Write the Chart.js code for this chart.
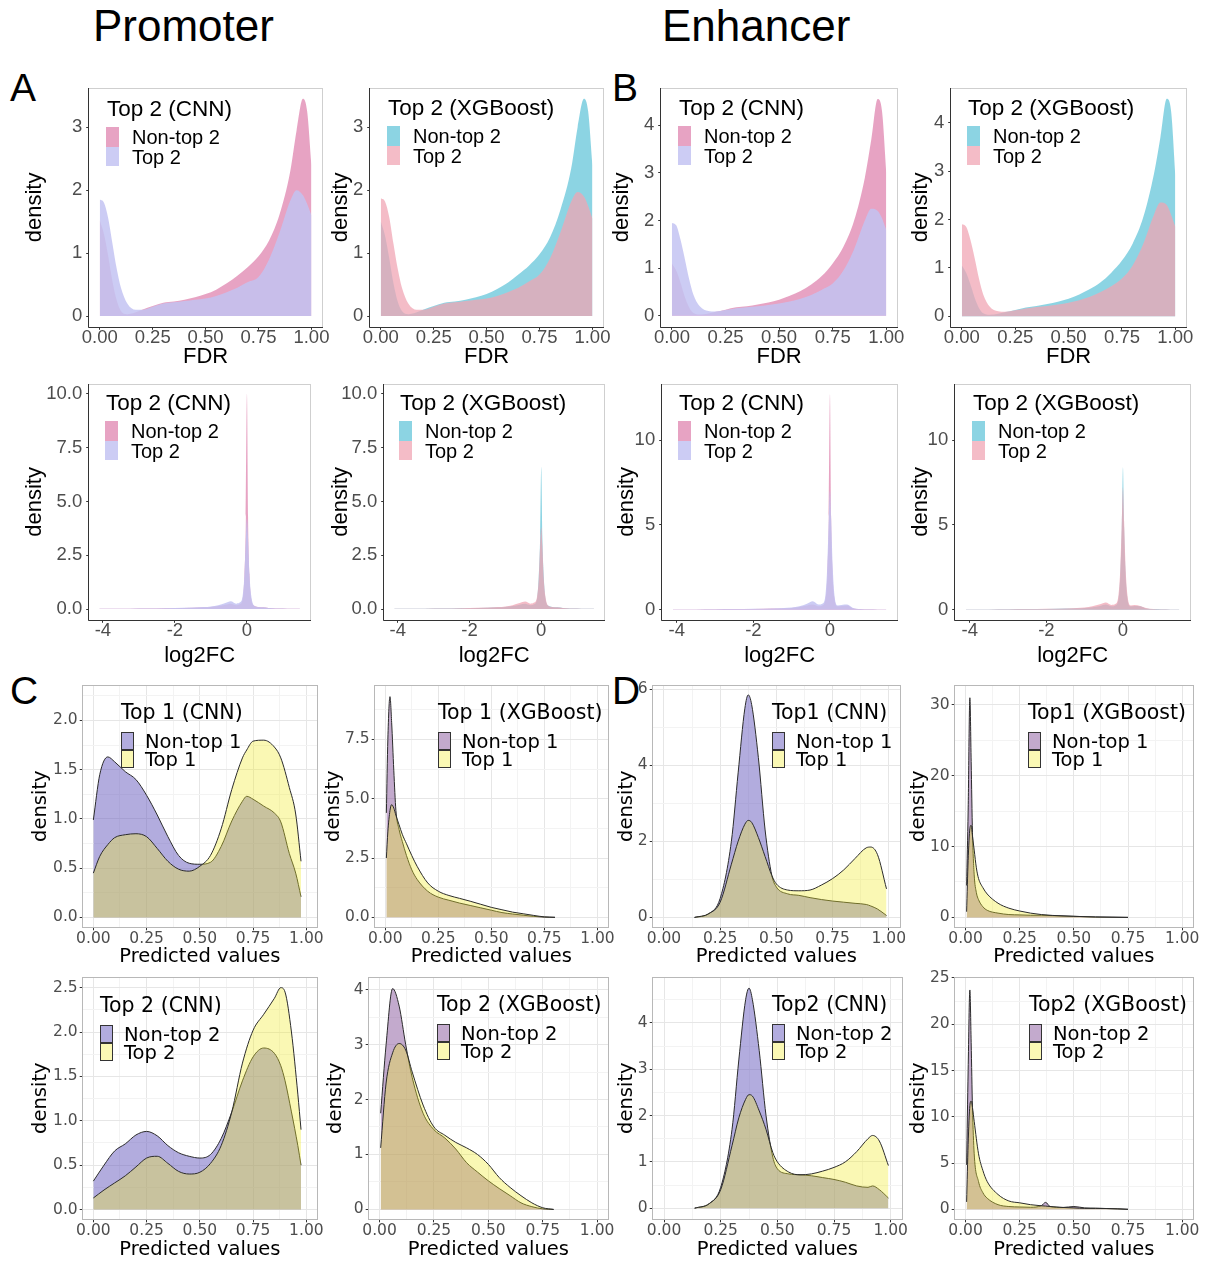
<!DOCTYPE html>
<html>
<head>
<meta charset="utf-8">
<script src="https://cdn.jsdelivr.net/npm/chart.js@4.4.0/dist/chart.umd.min.js"></script>
<style>
  body { margin: 0; background: #fff; width: 1209px; height: 1262px; position: relative; overflow: hidden; }
  .txt { position: absolute; white-space: nowrap; color: #000; line-height: 1.2; }
  .hdr { position: absolute; font-family: "Liberation Sans", Arial, sans-serif; font-size: 44px; line-height: 1; }
  .tag { position: absolute; font-family: "Liberation Sans", Arial, sans-serif; font-size: 39px; line-height: 1; }
  .key { position: absolute; box-sizing: border-box; }
</style>
</head>
<body>
<div class="hdr" style="left:93px;top:4px">Promoter</div>
<div class="hdr" style="left:662px;top:4px">Enhancer</div>
<div class="tag" style="left:10px;top:68px">A</div>
<div class="tag" style="left:612px;top:68px">B</div>
<div class="tag" style="left:10px;top:671px">C</div>
<div class="tag" style="left:612px;top:671px">D</div>
<script>
// tick labels
const fdrTicks = [0, 0.25, 0.5, 0.75, 1];
const fcTicks = [-4, -2, 0];
const predTicks = [0, 0.25, 0.5, 0.75, 1];
const a1YTicks = [0, 1, 2, 3];
const b1YTicks = [0, 1, 2, 3, 4];
const a3YTicks = [0, 2.5, 5, 7.5, 10];
const b3YTicks = [0, 5, 10];
const c1YTicks = [0, 0.5, 1, 1.5, 2];
const c2YTicks = [0, 2.5, 5, 7.5];
const d1YTicks = [0, 2, 4, 6];
const d2YTicks = [0, 10, 20, 30];
const c3YTicks = [0, 0.5, 1, 1.5, 2, 2.5];
const c4YTicks = [0, 1, 2, 3, 4];
const d3YTicks = [0, 1, 2, 3, 4];
const d4YTicks = [0, 5, 10, 15, 20, 25];

// FDR densities
const fdrX = [0, 0.02, 0.04, 0.06, 0.08, 0.1, 0.13, 0.17, 0.2, 0.25, 0.3, 0.35, 0.4, 0.45, 0.5, 0.55, 0.6, 0.65, 0.7, 0.75, 0.8, 0.85, 0.9, 0.93, 0.96, 0.98, 1];
const a1NonTop = [1.52, 1.3, 0.95, 0.55, 0.25, 0.08, 0.03, 0.06, 0.1, 0.16, 0.21, 0.23, 0.26, 0.3, 0.35, 0.42, 0.52, 0.64, 0.78, 0.95, 1.2, 1.62, 2.3, 2.95, 3.45, 3.25, 2.4];
const a1Top = [1.85, 1.8, 1.55, 1.15, 0.75, 0.45, 0.2, 0.1, 0.1, 0.15, 0.2, 0.22, 0.24, 0.26, 0.28, 0.32, 0.38, 0.45, 0.54, 0.62, 0.9, 1.33, 1.83, 2.0, 1.92, 1.78, 1.6];
const a2NonTop = [1.5, 1.28, 0.92, 0.52, 0.23, 0.08, 0.03, 0.06, 0.1, 0.16, 0.21, 0.23, 0.26, 0.3, 0.35, 0.43, 0.53, 0.66, 0.8, 0.98, 1.25, 1.7, 2.35, 3.0, 3.45, 3.25, 2.4];
const a2Top = [1.87, 1.82, 1.57, 1.15, 0.75, 0.45, 0.2, 0.1, 0.1, 0.15, 0.2, 0.22, 0.24, 0.26, 0.28, 0.32, 0.38, 0.45, 0.55, 0.66, 0.92, 1.34, 1.82, 1.97, 1.9, 1.75, 1.55];
const b1NonTop = [1.1, 0.95, 0.7, 0.4, 0.18, 0.06, 0.03, 0.05, 0.08, 0.13, 0.18, 0.2, 0.24, 0.28, 0.34, 0.42, 0.52, 0.66, 0.84, 1.1, 1.45, 2.0, 2.9, 3.7, 4.55, 4.3, 3.0];
const b1Top = [1.95, 1.9, 1.6, 1.2, 0.78, 0.45, 0.2, 0.1, 0.09, 0.12, 0.16, 0.18, 0.2, 0.23, 0.26, 0.3, 0.36, 0.44, 0.55, 0.68, 0.95, 1.4, 2.0, 2.25, 2.2, 2.05, 1.8];
const b2NonTop = [1.05, 0.9, 0.66, 0.38, 0.17, 0.06, 0.03, 0.05, 0.08, 0.13, 0.18, 0.21, 0.25, 0.3, 0.36, 0.45, 0.56, 0.7, 0.9, 1.15, 1.5, 2.05, 2.95, 3.7, 4.5, 4.25, 2.9];
const b2Top = [1.9, 1.85, 1.58, 1.2, 0.78, 0.45, 0.2, 0.1, 0.09, 0.12, 0.16, 0.19, 0.21, 0.24, 0.28, 0.33, 0.4, 0.5, 0.62, 0.78, 1.05, 1.5, 2.1, 2.35, 2.3, 2.1, 1.85];

// log2FC densities
const fcX = [-4.1, -3.5, -3, -2.5, -2, -1.5, -1.2, -1, -0.8, -0.6, -0.45, -0.3, -0.2, -0.12, -0.07, -0.03, 0, 0.03, 0.07, 0.12, 0.2, 0.3, 0.45, 0.6, 0.8, 1, 1.25, 1.47];
const a3NonTop = [0.01, 0.01, 0.02, 0.03, 0.04, 0.06, 0.08, 0.1, 0.14, 0.2, 0.25, 0.18, 0.22, 0.45, 1.6, 4.3, 10.0, 4.3, 1.6, 0.45, 0.15, 0.1, 0.08, 0.05, 0.03, 0.02, 0.01, 0.01];
const a3Top = [0.01, 0.01, 0.02, 0.03, 0.05, 0.07, 0.09, 0.12, 0.18, 0.28, 0.36, 0.25, 0.3, 0.6, 1.6, 3.3, 4.2, 3.3, 1.6, 0.6, 0.15, 0.1, 0.08, 0.05, 0.03, 0.02, 0.01, 0.01];
const a4NonTop = [0.01, 0.01, 0.02, 0.03, 0.04, 0.06, 0.08, 0.1, 0.14, 0.2, 0.24, 0.18, 0.22, 0.45, 1.5, 3.4, 6.6, 3.4, 1.5, 0.45, 0.15, 0.1, 0.08, 0.05, 0.03, 0.02, 0.01, 0.01];
const a4Top = [0.01, 0.01, 0.02, 0.03, 0.05, 0.07, 0.09, 0.12, 0.18, 0.28, 0.35, 0.25, 0.3, 0.55, 1.4, 3.0, 3.8, 3.0, 1.4, 0.55, 0.15, 0.1, 0.08, 0.05, 0.03, 0.02, 0.01, 0.01];
const b3NonTop = [0.01, 0.01, 0.02, 0.03, 0.04, 0.06, 0.08, 0.1, 0.15, 0.25, 0.3, 0.2, 0.25, 0.6, 2.0, 5.5, 12.7, 5.5, 2.0, 0.6, 0.2, 0.22, 0.25, 0.08, 0.03, 0.02, 0.01, 0.01];
const b3Top = [0.01, 0.01, 0.02, 0.03, 0.05, 0.07, 0.1, 0.13, 0.2, 0.35, 0.49, 0.3, 0.35, 0.8, 2.6, 5.4, 7.0, 5.4, 2.6, 0.8, 0.25, 0.28, 0.3, 0.1, 0.04, 0.02, 0.01, 0.01];
const b4NonTop = [0.01, 0.01, 0.02, 0.03, 0.04, 0.06, 0.08, 0.1, 0.14, 0.22, 0.3, 0.2, 0.25, 0.6, 2.0, 4.8, 8.4, 4.8, 2.0, 0.6, 0.2, 0.22, 0.2, 0.07, 0.03, 0.02, 0.01, 0.01];
const b4Top = [0.01, 0.01, 0.02, 0.03, 0.05, 0.07, 0.1, 0.13, 0.2, 0.32, 0.42, 0.28, 0.33, 0.8, 2.4, 5.2, 7.2, 5.2, 2.4, 0.8, 0.25, 0.28, 0.22, 0.1, 0.04, 0.02, 0.01, 0.01];

// predicted value densities
const c1X = [0, 0.03, 0.068, 0.1, 0.15, 0.2, 0.25, 0.3, 0.35, 0.4, 0.45, 0.5, 0.55, 0.6, 0.65, 0.7, 0.72, 0.75, 0.8, 0.85, 0.88, 0.92, 0.95, 0.975];
const c1NonTop = [0.99, 1.45, 1.63, 1.58, 1.48, 1.4, 1.24, 1.04, 0.82, 0.63, 0.55, 0.54, 0.56, 0.72, 0.98, 1.18, 1.23, 1.2, 1.13, 1.06, 0.97, 0.65, 0.45, 0.21];
const c1Top = [0.45, 0.62, 0.74, 0.81, 0.84, 0.85, 0.82, 0.7, 0.57, 0.49, 0.47, 0.52, 0.63, 0.9, 1.3, 1.62, 1.7, 1.79, 1.8, 1.73, 1.62, 1.32, 1.05, 0.57];
const c2X = [0.005, 0.012, 0.022, 0.03, 0.04, 0.05, 0.065, 0.08, 0.1, 0.125, 0.15, 0.2, 0.25, 0.3, 0.35, 0.4, 0.45, 0.5, 0.55, 0.6, 0.65, 0.7, 0.75, 0.8];
const c2NonTop = [4.4, 7.5, 9.3, 8.2, 6.2, 4.5, 3.7, 3.2, 2.6, 2.0, 1.6, 1.1, 0.85, 0.72, 0.6, 0.5, 0.4, 0.3, 0.2, 0.14, 0.09, 0.04, 0.01, 0.0];
const c2Top = [2.5, 3.6, 4.5, 4.75, 4.6, 4.3, 3.9, 3.5, 3.1, 2.6, 2.15, 1.45, 1.1, 0.92, 0.8, 0.68, 0.55, 0.42, 0.32, 0.22, 0.15, 0.08, 0.02, 0.0];
const d1X = [0.136, 0.2, 0.25, 0.3, 0.33, 0.36, 0.375, 0.39, 0.42, 0.45, 0.48, 0.5, 0.55, 0.6, 0.65, 0.7, 0.75, 0.8, 0.85, 0.9, 0.92, 0.95, 0.99];
const d1NonTop = [0, 0.1, 0.5, 2.0, 3.8, 5.5, 5.85, 5.6, 4.2, 2.3, 1.1, 0.8, 0.62, 0.58, 0.52, 0.47, 0.43, 0.4, 0.37, 0.34, 0.3, 0.22, 0.05];
const d1Top = [0, 0.1, 0.4, 1.4, 2.0, 2.45, 2.55, 2.5, 2.1, 1.6, 1.1, 0.88, 0.72, 0.7, 0.72, 0.85, 1.02, 1.25, 1.55, 1.83, 1.85, 1.65, 0.75];
const d2X = [0.005, 0.012, 0.02, 0.026, 0.032, 0.04, 0.05, 0.06, 0.08, 0.1, 0.15, 0.2, 0.25, 0.3, 0.35, 0.4, 0.5, 0.6, 0.75];
const d2NonTop = [4.5, 15, 31, 22, 12, 6, 3.5, 2.5, 1.5, 1.0, 0.6, 0.4, 0.35, 0.3, 0.3, 0.25, 0.15, 0.05, 0.0];
const d2Top = [0.8, 8, 12.5, 13, 11.5, 9.5, 7.0, 5.5, 4.2, 3.3, 2.0, 1.3, 0.9, 0.6, 0.4, 0.28, 0.15, 0.06, 0.0];
const c3X = [0, 0.05, 0.1, 0.15, 0.2, 0.25, 0.3, 0.35, 0.4, 0.45, 0.5, 0.55, 0.6, 0.65, 0.7, 0.75, 0.8, 0.85, 0.88, 0.9, 0.93, 0.96, 0.975];
const c3NonTop = [0.32, 0.5, 0.66, 0.74, 0.84, 0.88, 0.83, 0.72, 0.64, 0.6, 0.58, 0.62, 0.8, 1.1, 1.45, 1.72, 1.82, 1.76, 1.62, 1.45, 1.1, 0.72, 0.5];
const c3Top = [0.13, 0.22, 0.3, 0.38, 0.48, 0.58, 0.6, 0.52, 0.43, 0.4, 0.42, 0.52, 0.72, 1.1, 1.65, 2.02, 2.2, 2.38, 2.5, 2.45, 2.0, 1.3, 0.9];
const c4X = [0.005, 0.03, 0.06, 0.09, 0.12, 0.15, 0.2, 0.25, 0.3, 0.35, 0.4, 0.45, 0.5, 0.55, 0.6, 0.65, 0.7, 0.75, 0.8];
const c4NonTop = [1.75, 3.0, 4.02, 3.7, 3.0, 2.4, 1.75, 1.45, 1.3, 1.1, 0.85, 0.68, 0.52, 0.38, 0.25, 0.12, 0.05, 0.01, 0.0];
const c4Top = [1.12, 2.3, 2.85, 3.02, 2.9, 2.5, 1.9, 1.5, 1.35, 1.22, 1.12, 1.0, 0.82, 0.58, 0.4, 0.25, 0.12, 0.03, 0.0];
const d3X = [0.135, 0.2, 0.25, 0.3, 0.33, 0.36, 0.375, 0.39, 0.42, 0.45, 0.48, 0.5, 0.55, 0.6, 0.65, 0.7, 0.75, 0.8, 0.85, 0.9, 0.92, 0.95, 0.99];
const d3NonTop = [0, 0.1, 0.45, 1.7, 3.2, 4.5, 4.75, 4.5, 3.4, 2.0, 1.1, 0.85, 0.74, 0.72, 0.7, 0.66, 0.62, 0.56, 0.48, 0.45, 0.48, 0.4, 0.22];
const d3Top = [0, 0.1, 0.4, 1.35, 1.95, 2.35, 2.45, 2.42, 2.1, 1.7, 1.2, 1.0, 0.78, 0.72, 0.74, 0.8, 0.88, 1.0, 1.22, 1.5, 1.57, 1.45, 0.92];
const d4X = [0.005, 0.012, 0.02, 0.026, 0.032, 0.04, 0.06, 0.08, 0.1, 0.15, 0.2, 0.25, 0.3, 0.35, 0.37, 0.39, 0.45, 0.5, 0.55, 0.6, 0.7, 0.75];
const d4NonTop = [4.8, 15, 23.7, 18, 11, 6, 3.0, 1.8, 1.2, 0.5, 0.3, 0.25, 0.22, 0.4, 0.75, 0.3, 0.2, 0.3, 0.15, 0.12, 0.05, 0.0];
const d4Top = [0.8, 7, 11.2, 11.7, 11, 9.5, 6.0, 4.2, 3.0, 1.6, 0.9, 0.7, 0.5, 0.38, 0.35, 0.3, 0.2, 0.15, 0.1, 0.1, 0.05, 0.0];

const palettes = {
  cnnSoft: { nonTop: "rgba(225,140,180,0.8)", top: "rgba(195,195,242,0.85)", keyNon: "rgb(231,163,195)", keyTop: "rgb(204,204,244)" },
  xgbSoft: { nonTop: "rgba(120,205,222,0.85)", top: "rgba(240,165,180,0.75)", keyNon: "rgb(140,212,227)", keyTop: "rgb(244,188,199)" },
  cnnLine: { nonTop: "rgba(101,89,189,0.5)", top: "rgba(240,234,40,0.35)", keyNon: "rgb(178,172,222)", keyTop: "rgb(250,248,180)" },
  xgbLine: { nonTop: "rgba(135,85,155,0.5)", top: "rgba(240,234,40,0.35)", keyNon: "rgb(195,170,205)", keyTop: "rgb(250,248,180)" },
};

const fdrAxis = { ticks: fdrTicks, range: [-0.05, 1.05], title: "FDR", fmt: v => v.toFixed(2) };
const fcAxis = { ticks: fcTicks, range: [-4.38, 1.75], title: "log2FC", fmt: v => String(v) };
const predAxis = { ticks: predTicks, range: [-0.05, 1.05], title: "Predicted values", fmt: v => v.toFixed(2) };

const panels = [
  { x: fdrX, non: a1NonTop, top: a1Top, pal: "cnnSoft", xa: fdrAxis, yt: a1YTicks, yr: [-0.17, 3.62], yd: 0, title: "Top 2 (CNN)", labs: ["Non-top 2", "Top 2"], box: [89, 87, 322, 327], yTitleX: 35, xTitleY: 357, leg: [107, 108] },
  { x: fdrX, non: a2NonTop, top: a2Top, pal: "xgbSoft", xa: fdrAxis, yt: a1YTicks, yr: [-0.17, 3.62], yd: 0, title: "Top 2 (XGBoost)", labs: ["Non-top 2", "Top 2"], box: [370, 87, 603, 327], yTitleX: 341, xTitleY: 357, leg: [388, 107] },
  { x: fdrX, non: b1NonTop, top: b1Top, pal: "cnnSoft", xa: fdrAxis, yt: b1YTicks, yr: [-0.23, 4.78], yd: 0, title: "Top 2 (CNN)", labs: ["Non-top 2", "Top 2"], box: [661, 87, 897, 327], yTitleX: 622, xTitleY: 357, leg: [679, 107] },
  { x: fdrX, non: b2NonTop, top: b2Top, pal: "xgbSoft", xa: fdrAxis, yt: b1YTicks, yr: [-0.22, 4.72], yd: 0, title: "Top 2 (XGBoost)", labs: ["Non-top 2", "Top 2"], box: [951, 87, 1186, 327], yTitleX: 921, xTitleY: 357, leg: [968, 107] },
  { x: fcX, non: a3NonTop, top: a3Top, pal: "cnnSoft", xa: fcAxis, yt: a3YTicks, yr: [-0.5, 10.45], yd: 1, title: "Top 2 (CNN)", labs: ["Non-top 2", "Top 2"], box: [89, 383, 310, 620], yTitleX: 35, xTitleY: 656, leg: [106, 402] },
  { x: fcX, non: a4NonTop, top: a4Top, pal: "xgbSoft", xa: fcAxis, yt: a3YTicks, yr: [-0.5, 10.45], yd: 1, title: "Top 2 (XGBoost)", labs: ["Non-top 2", "Top 2"], box: [384, 383, 604, 620], yTitleX: 341, xTitleY: 656, leg: [400, 402] },
  { x: fcX, non: b3NonTop, top: b3Top, pal: "cnnSoft", xa: fcAxis, yt: b3YTicks, yr: [-0.6, 13.3], yd: 0, title: "Top 2 (CNN)", labs: ["Non-top 2", "Top 2"], box: [662, 383, 897, 620], yTitleX: 627, xTitleY: 656, leg: [679, 402] },
  { x: fcX, non: b4NonTop, top: b4Top, pal: "xgbSoft", xa: fcAxis, yt: b3YTicks, yr: [-0.6, 13.3], yd: 0, title: "Top 2 (XGBoost)", labs: ["Non-top 2", "Top 2"], box: [955, 383, 1190, 620], yTitleX: 921, xTitleY: 656, leg: [973, 402] },
  { x: c1X, non: c1NonTop, top: c1Top, pal: "cnnLine", xa: predAxis, yt: c1YTicks, yr: [-0.1, 2.36], yd: 1, title: "Top 1 (CNN)", labs: ["Non-top 1", "Top 1"], box: [83, 685, 317, 927], yTitleX: 41, xTitleY: 957, leg: [121, 712] },
  { x: c2X, non: c2NonTop, top: c2Top, pal: "xgbLine", xa: predAxis, yt: c2YTicks, yr: [-0.42, 9.79], yd: 1, title: "Top 1 (XGBoost)", labs: ["Non-top 1", "Top 1"], box: [375, 685, 608, 927], yTitleX: 334, xTitleY: 957, leg: [438, 712] },
  { x: d1X, non: d1NonTop, top: d1Top, pal: "cnnLine", xa: predAxis, yt: d1YTicks, yr: [-0.26, 6.11], yd: 0, title: "Top1 (CNN)", labs: ["Non-top 1", "Top 1"], box: [653, 685, 900, 927], yTitleX: 627, xTitleY: 957, leg: [772, 712] },
  { x: d2X, non: d2NonTop, top: d2Top, pal: "xgbLine", xa: predAxis, yt: d2YTicks, yr: [-1.4, 32.8], yd: 0, title: "Top1 (XGBoost)", labs: ["Non-top 1", "Top 1"], box: [955, 685, 1193, 927], yTitleX: 919, xTitleY: 957, leg: [1028, 712] },
  { x: c3X, non: c3NonTop, top: c3Top, pal: "cnnLine", xa: predAxis, yt: c3YTicks, yr: [-0.11, 2.62], yd: 1, title: "Top 2 (CNN)", labs: ["Non-top 2", "Top 2"], box: [83, 977, 317, 1219], yTitleX: 41, xTitleY: 1250, leg: [100, 1005] },
  { x: c4X, non: c4NonTop, top: c4Top, pal: "xgbLine", xa: predAxis, yt: c4YTicks, yr: [-0.18, 4.23], yd: 0, title: "Top 2 (XGBoost)", labs: ["Non-top 2", "Top 2"], box: [369, 977, 608, 1219], yTitleX: 336, xTitleY: 1250, leg: [437, 1004] },
  { x: d3X, non: d3NonTop, top: d3Top, pal: "cnnLine", xa: predAxis, yt: d3YTicks, yr: [-0.24, 4.99], yd: 0, title: "Top2 (CNN)", labs: ["Non-top 2", "Top 2"], box: [653, 977, 902, 1219], yTitleX: 627, xTitleY: 1250, leg: [772, 1004] },
  { x: d4X, non: d4NonTop, top: d4Top, pal: "xgbLine", xa: predAxis, yt: d4YTicks, yr: [-1.08, 25.1], yd: 0, title: "Top2 (XGBoost)", labs: ["Non-top 2", "Top 2"], box: [955, 977, 1193, 1219], yTitleX: 919, xTitleY: 1250, leg: [1029, 1004] },
];

// panel frame: grey border, plus dark axis lines for the upper (classic) panels
const framePlugin = {
  id: "frame",
  afterDraw(chart, args, o) {
    const a = chart.chartArea;
    const ctx = chart.ctx;
    const l = Math.round(a.left), t = Math.round(a.top), r = Math.round(a.right), b = Math.round(a.bottom);
    ctx.save();
    ctx.lineWidth = 1;
    ctx.strokeStyle = o.color;
    ctx.strokeRect(l - 0.5, t + 0.5, r - l + 1, b - t);
    if (o.axis) {
      ctx.strokeStyle = o.axis;
      ctx.beginPath();
      ctx.moveTo(l - 0.5, t);
      ctx.lineTo(l - 0.5, b + 0.5);
      ctx.lineTo(r + 1, b + 0.5);
      ctx.stroke();
    }
    ctx.restore();
  },
};

function tickList(majors, range, withMinor) {
  const out = majors.map(v => ({ value: v, minor: false }));
  if (withMinor) {
    const step = majors[1] - majors[0];
    for (let v = majors[0] - step / 2; v <= range[1]; v += step) {
      if (v >= range[0]) out.push({ value: v, minor: true });
    }
  }
  return out.sort((p, q) => p.value - q.value);
}

function addText(str, x, cy, size, fam) {
  const d = document.createElement("div");
  d.className = "txt";
  d.textContent = str;
  d.style.left = x + "px";
  d.style.top = (cy - size * 0.6) + "px";
  d.style.fontSize = size + "px";
  d.style.fontFamily = fam;
  document.body.appendChild(d);
}

function addLegend(p, soft) {
  const pal = palettes[p.pal];
  const fam = soft ? '"Liberation Sans", Arial, sans-serif' : '"DejaVu Sans", sans-serif';
  const keyH = soft ? 19.5 : 18;
  const keyTop = soft ? 19 : 20;
  const labOff = soft ? 29 : 30;
  const [lx, ly] = p.leg;
  addText(p.title, lx, ly, soft ? 22.5 : 20.5, fam);
  [pal.keyNon, pal.keyTop].forEach((col, i) => {
    const k = document.createElement("div");
    k.className = "key";
    k.style.left = (soft ? lx - 1 : lx) + "px";
    k.style.top = (ly + keyTop + i * keyH) + "px";
    k.style.width = "13px";
    k.style.height = keyH + "px";
    k.style.background = col;
    if (!soft) k.style.border = "1px solid #333";
    document.body.appendChild(k);
    addText(p.labs[i], lx + (soft ? 25 : 24), ly + labOff + i * keyH, soft ? 20 : 19.5, fam);
  });
}

function makePanel(p) {
  const soft = p.pal.endsWith("Soft");
  const pal = palettes[p.pal];
  const fam = soft ? '"Liberation Sans", Arial, sans-serif' : '"DejaVu Sans", sans-serif';
  const tickSize = soft ? 18.5 : 15.5;
  const titleSize = soft ? 22 : 19.5;
  const [bl, bt, br, bb] = p.box;
  const padTop = 14, padRight = 26;
  const cl = p.yTitleX - titleSize * 0.6;
  const ct = bt - padTop;
  const cb = p.xTitleY + titleSize * 0.6;
  const w = Math.round(br + padRight - cl);
  const h = Math.round(cb - ct);
  const yW = bl - cl;
  const xH = cb - bb;

  const cv = document.createElement("canvas");
  cv.width = w;
  cv.height = h;
  cv.style.cssText = `position:absolute;left:${cl}px;top:${ct}px;width:${w}px;height:${h}px`;
  document.body.appendChild(cv);

  const lineCol = soft ? "rgba(0,0,0,0)" : "#2b2b2b";
  const xTicks = tickList(p.xa.ticks, p.xa.range, !soft);
  const yTicks = tickList(p.yt, p.yr, !soft);
  const gridCol = ctx => (ctx.tick && ctx.tick.minor ? "#F3F3F3" : "#E6E6E6");
  const tickCol = ctx => (ctx.tick && ctx.tick.minor ? "rgba(0,0,0,0)" : "#333");

  new Chart(cv, {
    type: "line",
    data: {
      datasets: [
        {
          label: p.labs[1],
          data: p.x.map((x, i) => ({ x: x, y: p.top[i] })),
          backgroundColor: pal.top,
          borderColor: lineCol,
          borderWidth: soft ? 0 : 1,
          fill: "origin",
          pointRadius: 0,
          cubicInterpolationMode: "monotone",
          order: 0,
        },
        {
          label: p.labs[0],
          data: p.x.map((x, i) => ({ x: x, y: p.non[i] })),
          backgroundColor: pal.nonTop,
          borderColor: lineCol,
          borderWidth: soft ? 0 : 1,
          fill: "origin",
          pointRadius: 0,
          cubicInterpolationMode: "monotone",
          order: 1,
        },
      ],
    },
    options: {
      responsive: false,
      animation: false,
      devicePixelRatio: 1,
      layout: { padding: { top: padTop, right: padRight, left: 0, bottom: 0 } },
      plugins: {
        legend: { display: false },
        tooltip: { enabled: false },
        frame: { color: soft ? "#CFCFCF" : "#B8B8B8", axis: soft ? "#333" : null },
      },
      scales: {
        x: {
          type: "linear",
          min: p.xa.range[0],
          max: p.xa.range[1],
          afterBuildTicks: s => { s.ticks = xTicks.map(t => ({ ...t })); },
          afterFit: s => { s.height = xH; },
          ticks: {
            autoSkip: false,
            maxRotation: 0,
            padding: soft ? -3 : -1,
            color: "#4D4D4D",
            font: { family: fam, size: tickSize },
            callback: (v, i, ts) => (ts[i].minor ? "" : p.xa.fmt(v)),
          },
          grid: { drawOnChartArea: !soft, drawTicks: true, tickLength: 3, color: gridCol, tickColor: tickCol, lineWidth: 1 },
          border: { display: false },
          title: { display: true, text: p.xa.title, color: "#000", font: { family: fam, size: titleSize }, padding: 0 },
        },
        y: {
          type: "linear",
          min: p.yr[0],
          max: p.yr[1],
          afterBuildTicks: s => { s.ticks = yTicks.map(t => ({ ...t })); },
          afterFit: s => { s.width = yW; },
          ticks: {
            autoSkip: false,
            padding: soft ? 4 : 2,
            color: "#4D4D4D",
            font: { family: fam, size: tickSize },
            callback: (v, i, ts) => (ts[i].minor ? "" : v.toFixed(p.yd)),
          },
          grid: { drawOnChartArea: !soft, drawTicks: true, tickLength: 3, color: gridCol, tickColor: tickCol, lineWidth: 1 },
          border: { display: false },
          title: { display: true, text: "density", color: "#000", font: { family: fam, size: titleSize }, padding: 0 },
        },
      },
    },
    plugins: [framePlugin],
  });

  addLegend(p, soft);
}

panels.forEach(makePanel);
</script>
</body>
</html>
